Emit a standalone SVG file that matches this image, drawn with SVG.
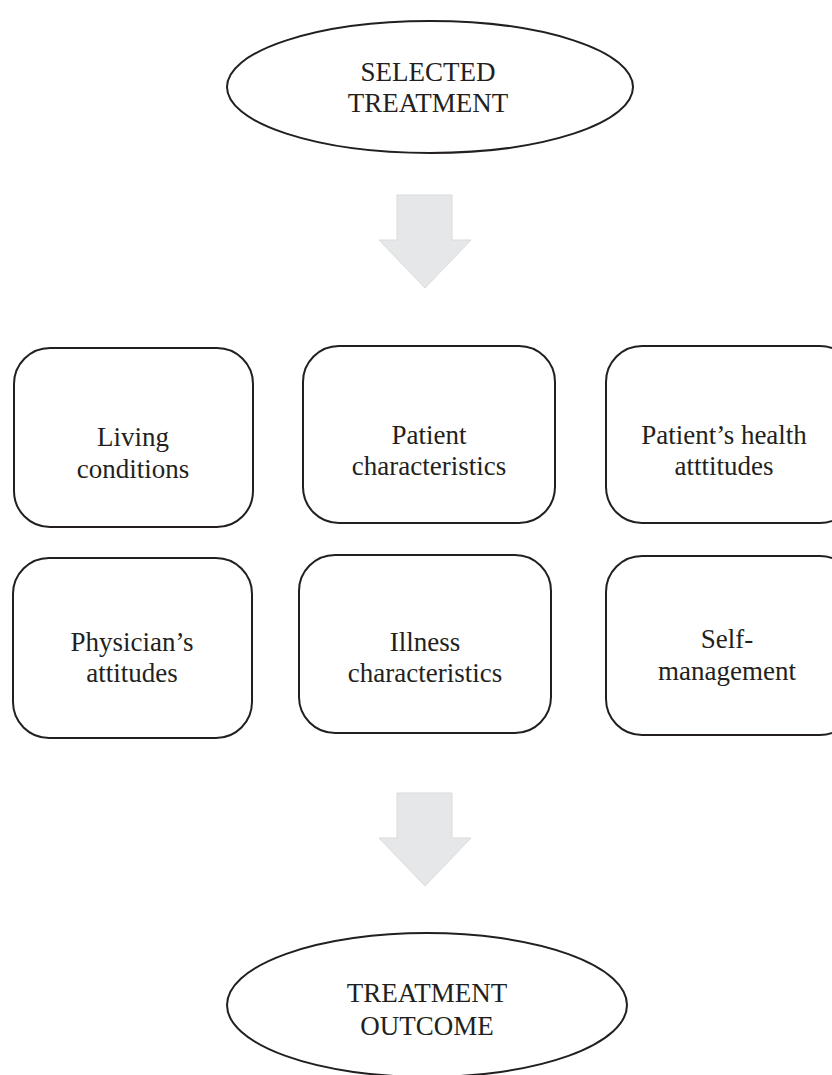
<svg xmlns="http://www.w3.org/2000/svg" width="832" height="1075" viewBox="0 0 832 1075">
<style>
.node{fill:#fff;stroke:#231f20;stroke-width:2}
.arrow{fill:#e6e7e8;stroke:#dadbdc;stroke-width:1}
text{font-family:"Liberation Serif","Times New Roman",serif;font-size:27px;fill:#231f20;text-anchor:middle}
</style>
<rect width="832" height="1075" fill="#fff"/>
<g id="selected-treatment">
<ellipse class="node" cx="430" cy="87" rx="203" ry="66"/>
<text x="428" y="81">SELECTED</text>
<text x="428" y="112">TREATMENT</text>
</g>
<g id="connectors">
<path class="arrow" d="M397 195 H452 V240 H471 L425 288 L379 240 H397 Z"/>
<path class="arrow" d="M397 793 H452 V838 H471 L425 886 L379 838 H397 Z"/>
</g>
<g id="living-conditions">
<rect class="node" x="14" y="348" width="239" height="179" rx="36"/>
<text x="133" y="446">Living</text>
<text x="133" y="478">conditions</text>
</g>
<g id="patient-characteristics">
<rect class="node" x="303" y="346" width="252" height="177" rx="36"/>
<text x="429" y="444">Patient</text>
<text x="429" y="475">characteristics</text>
</g>
<g id="patient-health-attitudes">
<rect class="node" x="606" y="346" width="250" height="177" rx="36"/>
<text x="724" y="444">Patient’s health</text>
<text x="724" y="475">atttitudes</text>
</g>
<g id="physician-attitudes">
<rect class="node" x="13" y="558" width="239" height="180" rx="36"/>
<text x="132" y="651">Physician’s</text>
<text x="132" y="682">attitudes</text>
</g>
<g id="illness-characteristics">
<rect class="node" x="299" y="555" width="252" height="178" rx="36"/>
<text x="425" y="651">Illness</text>
<text x="425" y="682">characteristics</text>
</g>
<g id="self-management">
<rect class="node" x="606" y="556" width="250" height="179" rx="36"/>
<text x="727" y="648">Self-</text>
<text x="727" y="680">management</text>
</g>
<g id="treatment-outcome">
<ellipse class="node" cx="427" cy="1005" rx="200" ry="72"/>
<text x="427" y="1002">TREATMENT</text>
<text x="427" y="1035">OUTCOME</text>
</g>
</svg>
